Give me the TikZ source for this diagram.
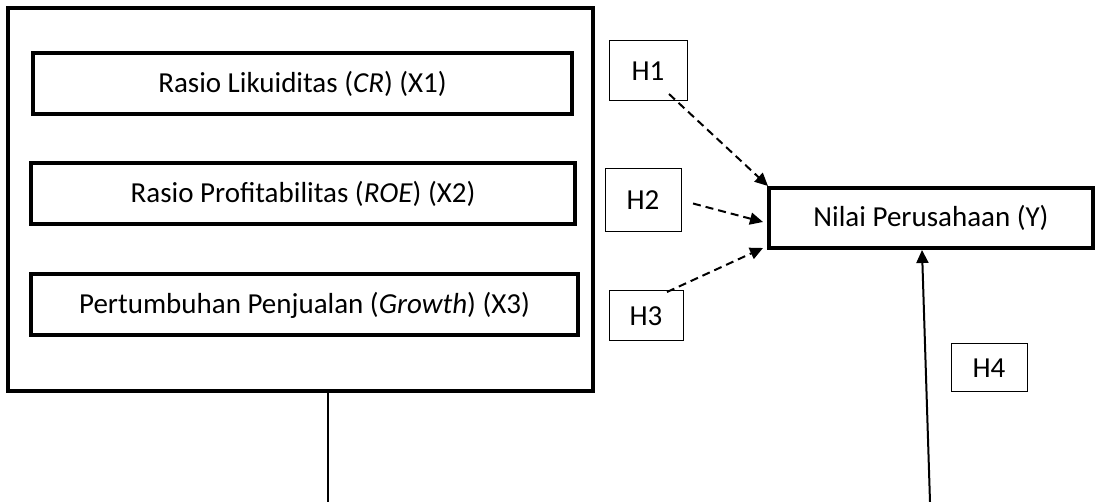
\documentclass[tikz,border=0pt]{standalone}
\usepackage{fontspec}
\setmainfont{Carlito}
\usetikzlibrary{arrows.meta,calc}
\begin{document}
\begin{tikzpicture}[x=1pt,y=-1pt,
  bigbox/.style={draw,line width=4pt,rectangle,outer sep=0pt,inner sep=0pt,font=\fontsize{29}{34}\selectfont},
  hbox/.style={draw,line width=1pt,rectangle,outer sep=0pt,inner sep=0pt,font=\fontsize{29}{34}\selectfont},
  dasharrow/.style={line width=2pt,dash pattern=on 8pt off 5pt,-{Triangle[length=13pt,width=12pt]}},
  solidarrow/.style={line width=2pt,-{Triangle[length=13pt,width=12pt]}}]
\useasboundingbox (0,0) rectangle (1095,502);
\node[bigbox,minimum width=585pt,minimum height=383pt] (outer) at (300.5,199.5) {};
\node[bigbox,minimum width=539pt,minimum height=61pt] (x1) at (302.5,83.5) {Rasio Likuiditas (\textit{CR}) (X1)};
\node[bigbox,minimum width=544pt,minimum height=61pt] (x2) at (303,193.5) {Rasio Profitabilitas (\textit{ROE}) (X2)};
\node[bigbox,minimum width=547pt,minimum height=61pt] (x3) at (304.5,305) {Pertumbuhan Penjualan (\textit{Growth}) (X3)};
\node[bigbox,minimum width=324pt,minimum height=60pt] (nilai) at (931,218) {Nilai Perusahaan (Y)};
\node[hbox,minimum width=78pt,minimum height=60pt] (h1) at (648,71) {H1};
\node[hbox,minimum width=76pt,minimum height=63pt] (h2) at (643,200.5) {H2};
\node[hbox,minimum width=74pt,minimum height=50pt] (h3) at (646,316) {H3};
\node[hbox,minimum width=76pt,minimum height=48pt] (h4) at (989,368) {H4};
\coordinate (leftend) at (328,502);
\coordinate (rightend) at (930,502);
\draw[dasharrow] ($(h1.south east)+(-18,-7)$) -- ($(nilai.north west)+(-1,-2)$);
\draw[dasharrow] ($(h2.east)+(12,3)$) -- ($(nilai.west)+(-6,4)$);
\draw[dasharrow] ($(h3.north)+(21,1)$) -- ($(nilai.south west)+(-6,0)$);
\draw[solidarrow] (rightend) -- ($(nilai.south)+(-9,2)$);
\draw[line width=2pt] (outer.south -| leftend) -- (leftend);
\end{tikzpicture}
\end{document}
